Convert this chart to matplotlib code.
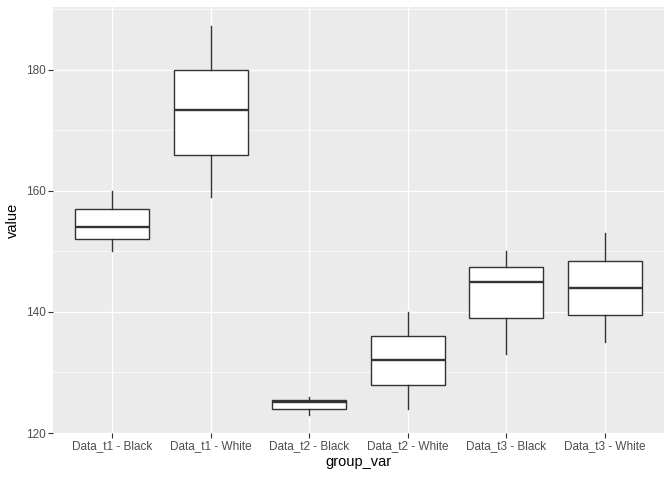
import matplotlib
matplotlib.use('Agg')
import matplotlib.pyplot as plt
from matplotlib.ticker import MultipleLocator

plt.rcParams['font.family'] = ['Liberation Sans', 'DejaVu Sans']

groups = ['Data_t1 - Black', 'Data_t1 - White', 'Data_t2 - Black',
          'Data_t2 - White', 'Data_t3 - Black', 'Data_t3 - White']
whisker_low = [150, 159, 123, 124, 133, 135]
q1 = [152, 166, 124, 128, 139, 139.5]
median = [154, 173.3, 125.1, 132, 145, 144]
q3 = [157, 180, 125.4, 136, 147.5, 148.5]
whisker_high = [160, 187.3, 126, 140, 150, 153]

stats = []
for i, g in enumerate(groups):
    stats.append({'label': g, 'whislo': whisker_low[i], 'q1': q1[i], 'med': median[i],
                  'q3': q3[i], 'whishi': whisker_high[i], 'fliers': []})

fig = plt.figure(figsize=(6.72, 4.8), dpi=100)
ax = fig.add_axes([53 / 672, 47 / 480, 611 / 672, 426 / 480])
ax.set_facecolor('#EBEBEB')

line = dict(color='#333333', linewidth=1.0)
ax.bxp(stats, positions=range(1, 7), widths=0.75, patch_artist=True, showcaps=False,
       boxprops=dict(facecolor='white', edgecolor='#333333', linewidth=1.0),
       whiskerprops=line, medianprops=dict(color='#333333', linewidth=1.7, solid_capstyle='butt'))

ax.set_xlim(0.4, 6.6)
ax.set_ylim(120, 190.4)
ax.yaxis.set_major_locator(MultipleLocator(20))
ax.yaxis.set_minor_locator(MultipleLocator(10))
ax.set_xticks(range(1, 7))
ax.set_xticklabels(groups)

ax.grid(which='major', color='white', linewidth=1.0)
ax.grid(which='minor', axis='y', color='white', linewidth=0.5)
ax.set_axisbelow(True)
for s in ax.spines.values():
    s.set_visible(False)
ax.tick_params(which='major', length=3.3, width=0.8, color='#333333', labelcolor='#4D4D4D',
               labelsize=8.45, pad=2)
ax.tick_params(which='minor', length=0)

ax.set_xlabel('group_var', fontsize=10.5, labelpad=2)
ax.set_ylabel('value', fontsize=10.5, labelpad=4)

fig.savefig('out.png', dpi=100)
